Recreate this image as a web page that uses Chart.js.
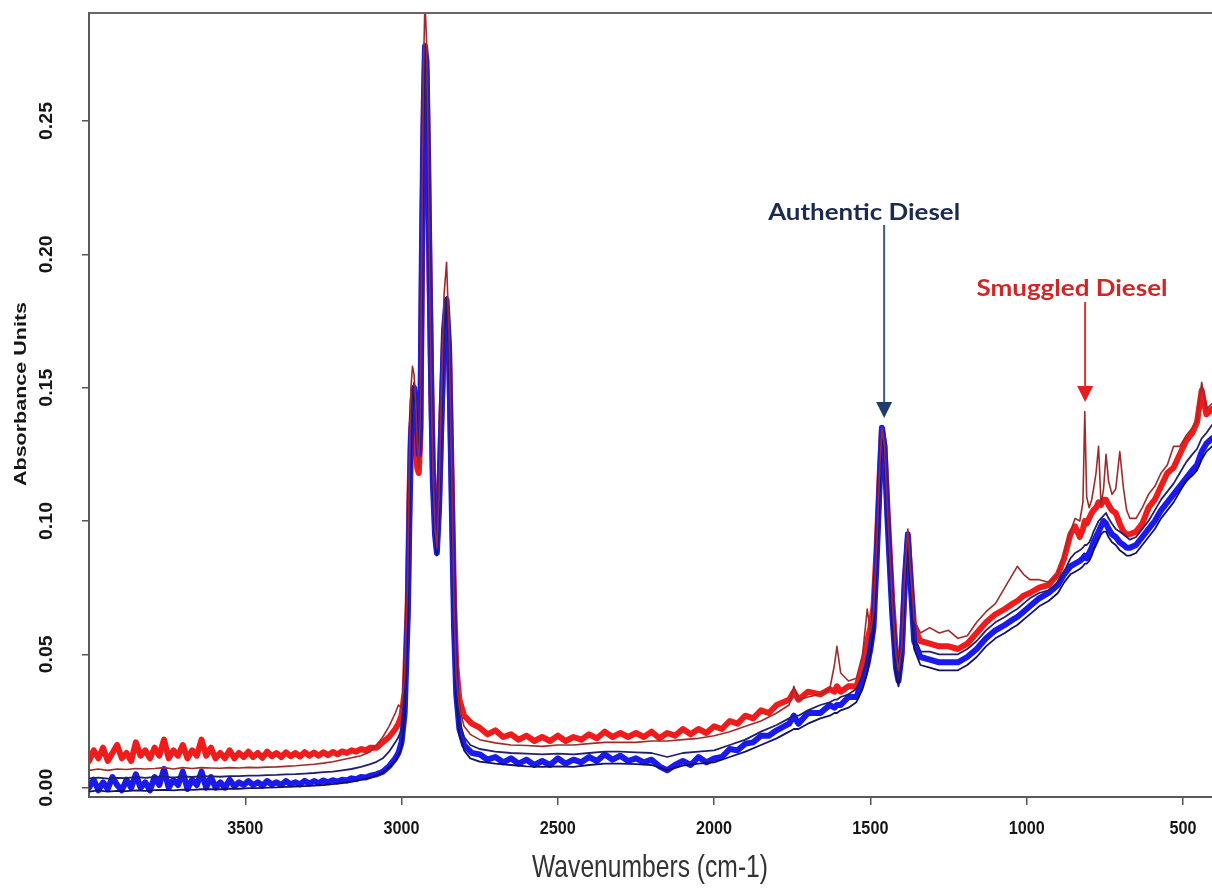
<!DOCTYPE html>
<html>
<head>
<meta charset="utf-8">
<title>FTIR spectra – authentic vs smuggled diesel</title>
<script src="https://cdn.jsdelivr.net/npm/chart.js@4.4.1/dist/chart.umd.min.js"></script>
<style>
  html, body { margin: 0; padding: 0; background: #ffffff; }
  #wrap { width: 1212px; height: 892px; }
</style>
</head>
<body>
<div id="wrap"><canvas id="spectra" width="1212" height="892"></canvas></div>
<script>
// Wavenumber grid (cm-1) for the thin traces
const wavenumbers = [
  4000,3970,3940,3910,3880,3850,3820,3790,3760,3730,3700,3670,3640,3610,3580,3550,3520,3490,3460,3430,3400,3370,3340,3310,3280,3250,3220,3190,3160,3130,3100,
  3080,3060,3040,3020,3010,3000,2990,2980,2975,2970,2965,2960,2955,2950,2945,2940,2935,2930,2925,2920,2915,2910,2905,2900,2893,2887,2880,2872,2864,2856,2848,2840,2832,2825,2815,
  2800,2780,2750,2700,2650,2600,2550,2500,2450,2400,2350,2300,2250,2200,2150,2100,2050,2000,1950,1900,1850,1800,
  1760,1745,1730,1700,1660,1630,1615,1607,1595,1570,1545,1525,1510,1500,1490,1480,1470,1463,1455,1445,1430,1418,1410,1400,1390,1380,1372,1360,1340,
  1310,1280,1250,1220,1190,1160,1130,1100,1070,1045,1030,1010,990,960,930,900,880,860,845,830,820,814,808,800,792,786,778,770,762,754,746,738,727,715,702,690,680,670,650,630,610,590,570,550,530,510,490,470,455,440,425,407
];

// Finer wavenumber grid (cm-1) for the two noisy thick traces
const noisyWavenumbers = [
  4000,3985,3970,3955,3940,3925,3910,3895,3880,3865,
  3850,3835,3820,3805,3790,3775,3760,3745,3730,3715,
  3700,3685,3670,3655,3640,3625,3610,3595,3580,3565,
  3550,3535,3520,3505,3490,3475,3460,3445,3430,3415,
  3400,3385,3370,3355,3340,3325,3310,3295,3280,3265,
  3250,3235,3220,3205,3190,3175,3160,3145,3130,3115,
  3100,
  3080,3060,3040,3020,3010,3000,2990,2980,2975,2970,2965,2960,2955,2950,2945,2940,2935,2930,2925,2920,2915,2910,2905,2900,2893,2887,2880,2872,2864,2856,2848,2840,2832,2825,2815,
  2800,2775,2750,2725,2700,2675,2650,2625,2600,2575,
  2550,2525,2500,2475,2450,2425,2400,2375,2350,2325,
  2300,2275,2250,2225,2200,2175,2150,2125,2100,2075,
  2050,2025,2000,1975,1950,1925,1900,1875,1850,1825,
  1800,
  1760,1745,1730,1700,1660,1630,1615,1607,1595,1570,1545,1525,1510,1500,1490,1480,1470,1463,1455,1445,1430,1418,1410,1400,1390,1380,1372,1360,1340,
  1310,1280,1250,1220,1190,1160,1130,1100,1070,1045,1030,1010,990,960,930,900,880,860,845,830,820,814,808,800,792,786,778,770,762,754,746,738,727,715,702,690,680,670,650,630,610,590,570,550,530,510,490,470,455,440,425,407
];

// Smuggled diesel sample (thin dark-red trace with extra bands)
const smuggledSample = [
  0.0065,0.007,0.0065,0.007,0.0068,0.0072,0.007,0.0072,0.0075,0.007,0.0075,0.0072,0.0075,0.0074,0.0073,0.0075,0.0074,0.0076,0.0075,0.0077,0.0078,0.008,0.0082,0.0085,0.0088,0.0092,0.0097,0.0105,0.0112,0.012,0.0135,
  0.016,0.019,0.023,0.028,0.031,0.030,0.042,0.08,0.12,0.15,0.158,0.155,0.145,0.13,0.12,0.14,0.21,0.27,0.295,0.28,0.24,0.19,0.15,0.12,0.097,0.09,0.11,0.15,0.185,0.197,0.17,0.12,0.066,0.042,0.03,
  0.023,0.020,0.018,0.0168,0.016,0.0158,0.0155,0.016,0.016,0.0165,0.017,0.017,0.017,0.0175,0.0175,0.018,0.0185,0.0195,0.021,0.023,0.025,0.028,
  0.031,0.038,0.033,0.034,0.035,0.037,0.046,0.053,0.043,0.040,0.041,0.050,0.067,0.058,0.066,0.09,0.12,0.135,0.128,0.104,0.069,0.05,0.044,0.052,0.08,0.097,0.082,0.063,0.058,
  0.060,0.058,0.059,0.056,0.057,0.062,0.066,0.069,0.075,0.080,0.083,0.080,0.078,0.078,0.077,0.080,0.088,0.096,0.101,0.100,0.107,0.141,0.109,0.105,0.108,0.112,0.118,0.128,0.106,0.112,0.125,0.115,0.110,0.112,0.126,0.112,0.104,0.101,0.101,0.105,0.110,0.113,0.118,0.121,0.128,0.128,0.132,0.135,0.138,0.152,0.142,0.144
];

// Red reference sample (thick noisy trace, on the finer grid)
const redSample = [
  0.010,0.014,0.011,0.015,0.010,0.013,0.016,0.011,0.013,0.010,
  0.017,0.012,0.014,0.011,0.015,0.012,0.018,0.011,0.014,0.012,
  0.016,0.011,0.014,0.012,0.018,0.012,0.015,0.011,0.013,0.011,
  0.014,0.011,0.013,0.0115,0.0135,0.0115,0.013,0.0112,0.0135,0.0118,
  0.013,0.0115,0.0132,0.0118,0.013,0.0117,0.0133,0.012,0.0132,0.012,
  0.0133,0.0122,0.0134,0.0125,0.0136,0.013,0.014,0.0135,0.0145,0.014,
  0.015,
  0.015,0.017,0.019,0.022,0.024,0.027,0.036,0.07,0.108,0.133,0.14,0.143,0.13,0.12,0.118,0.13,0.19,0.24,0.274,0.268,0.23,0.188,0.15,0.12,0.1,0.092,0.108,0.14,0.168,0.179,0.163,0.118,0.07,0.046,0.033,
  0.027,0.024,0.0225,0.020,0.0215,0.019,0.020,0.018,0.0195,0.0175,
  0.019,0.0175,0.0195,0.0175,0.019,0.018,0.020,0.0185,0.021,0.019,
  0.0205,0.019,0.0205,0.019,0.021,0.0185,0.0205,0.0195,0.022,0.020,
  0.022,0.0205,0.023,0.022,0.025,0.024,0.027,0.026,0.029,0.028,
  0.031,
  0.033,0.036,0.033,0.036,0.035,0.037,0.036,0.038,0.036,0.038,0.038,0.045,0.055,0.06,0.068,0.09,0.118,0.134,0.128,0.104,0.07,0.05,0.043,0.051,0.076,0.093,0.08,0.06,0.055,
  0.054,0.053,0.053,0.052,0.054,0.058,0.062,0.065,0.067,0.069,0.070,0.072,0.073,0.075,0.076,0.080,0.086,0.095,0.098,0.094,0.097,0.100,0.099,0.101,0.103,0.104,0.105,0.107,0.106,0.108,0.108,0.106,0.104,0.103,0.099,0.096,0.095,0.095,0.096,0.099,0.105,0.108,0.113,0.118,0.120,0.125,0.130,0.133,0.137,0.149,0.140,0.142
];

// Authentic diesel, upper navy trace
const authenticUpper = [
  0.0035,0.0038,0.0034,0.0037,0.0036,0.004,0.0037,0.004,0.0042,0.0038,0.0042,0.004,0.0043,0.0042,0.0041,0.0043,0.0043,0.0045,0.0045,0.0047,0.0048,0.005,0.0051,0.0053,0.0055,0.0058,0.006,0.0065,0.007,0.0078,0.0088,
  0.0097,0.011,0.0135,0.017,0.019,0.022,0.032,0.07,0.105,0.133,0.146,0.152,0.146,0.136,0.126,0.137,0.2,0.252,0.279,0.273,0.236,0.19,0.15,0.117,0.096,0.089,0.106,0.142,0.174,0.184,0.166,0.112,0.062,0.037,0.025,
  0.019,0.016,0.0145,0.0135,0.013,0.0128,0.0125,0.0128,0.0125,0.013,0.0135,0.0135,0.0132,0.013,0.0115,0.013,0.0135,0.014,0.016,0.018,0.021,0.0235,
  0.026,0.027,0.027,0.029,0.031,0.032,0.033,0.033,0.034,0.035,0.037,0.042,0.048,0.054,0.062,0.087,0.117,0.134,0.127,0.10,0.066,0.046,0.041,0.05,0.078,0.095,0.078,0.056,0.051,
  0.051,0.050,0.050,0.050,0.052,0.055,0.059,0.062,0.064,0.066,0.067,0.069,0.071,0.073,0.074,0.077,0.081,0.086,0.088,0.089,0.090,0.091,0.091,0.092,0.094,0.096,0.098,0.100,0.101,0.102,0.103,0.101,0.099,0.097,0.096,0.095,0.094,0.093,0.094,0.097,0.100,0.104,0.108,0.111,0.114,0.118,0.122,0.125,0.127,0.131,0.133,0.136
];

// Authentic diesel, blue trace (thick noisy, on the finer grid)
const authenticBlue = [
  0.000,0.003,-0.001,0.002,-0.0005,0.004,0.001,-0.001,0.003,0.000,
  0.005,0.000,0.002,-0.001,0.004,0.001,0.007,0.000,0.003,0.001,
  0.006,-0.0005,0.003,0.001,0.006,0.000,0.004,0.000,0.002,0.000,
  0.003,0.0005,0.002,0.001,0.0025,0.001,0.002,0.0008,0.0025,0.0012,
  0.002,0.001,0.0025,0.0013,0.002,0.0012,0.0026,0.0015,0.0025,0.0017,
  0.0027,0.002,0.0028,0.0023,0.003,0.0027,0.0035,0.0032,0.004,0.0038,
  0.0045,
  0.005,0.006,0.008,0.011,0.013,0.017,0.028,0.065,0.10,0.13,0.145,0.15,0.145,0.135,0.125,0.135,0.20,0.25,0.278,0.272,0.235,0.19,0.15,0.115,0.095,0.088,0.105,0.14,0.172,0.183,0.165,0.11,0.06,0.035,0.022,
  0.016,0.013,0.0125,0.0105,0.0115,0.0095,0.011,0.009,0.0105,0.0085,
  0.010,0.0085,0.011,0.009,0.0105,0.0095,0.0115,0.010,0.0125,0.0105,
  0.012,0.010,0.011,0.0095,0.0105,0.008,0.0065,0.0085,0.010,0.0085,
  0.0115,0.0095,0.011,0.0115,0.0145,0.014,0.0165,0.017,0.0195,0.0195,
  0.0215,
  0.024,0.027,0.024,0.028,0.028,0.031,0.030,0.031,0.031,0.034,0.034,0.040,0.046,0.052,0.060,0.085,0.115,0.135,0.128,0.10,0.065,0.045,0.040,0.05,0.078,0.095,0.078,0.055,0.049,
  0.048,0.047,0.047,0.047,0.049,0.052,0.056,0.059,0.061,0.063,0.064,0.066,0.068,0.071,0.073,0.076,0.080,0.083,0.084,0.085,0.086,0.087,0.086,0.088,0.090,0.092,0.094,0.096,0.098,0.100,0.099,0.097,0.095,0.094,0.092,0.091,0.090,0.090,0.091,0.094,0.097,0.100,0.104,0.107,0.110,0.113,0.116,0.119,0.121,0.126,0.129,0.131
];

// Authentic diesel, lower navy trace
const authenticLower = [
  -0.0015,-0.001,-0.0015,-0.0012,-0.0013,-0.001,-0.0012,-0.0009,-0.0008,-0.001,-0.0007,-0.0008,-0.0006,-0.0006,-0.0006,-0.0004,-0.0004,-0.0002,-0.0002,0.0,0.0001,0.0003,0.0004,0.0006,0.0008,0.001,0.0013,0.0017,0.0022,0.0029,0.0037,
  0.0045,0.0056,0.0075,0.010,0.012,0.015,0.026,0.063,0.098,0.128,0.143,0.149,0.144,0.134,0.124,0.134,0.198,0.249,0.277,0.271,0.234,0.189,0.149,0.114,0.094,0.087,0.104,0.139,0.171,0.182,0.164,0.109,0.058,0.033,0.02,
  0.014,0.011,0.0098,0.009,0.0085,0.008,0.0078,0.008,0.0078,0.0085,0.009,0.009,0.0088,0.0085,0.0065,0.0083,0.009,0.0095,0.0115,0.0135,0.016,0.0185,
  0.021,0.022,0.022,0.024,0.026,0.027,0.028,0.028,0.029,0.030,0.032,0.037,0.043,0.050,0.058,0.083,0.113,0.133,0.126,0.098,0.062,0.042,0.038,0.047,0.075,0.093,0.076,0.052,0.046,
  0.045,0.044,0.044,0.044,0.046,0.049,0.053,0.056,0.058,0.060,0.061,0.063,0.065,0.068,0.070,0.073,0.077,0.080,0.081,0.082,0.083,0.084,0.084,0.085,0.087,0.089,0.091,0.093,0.095,0.096,0.096,0.094,0.092,0.091,0.089,0.088,0.087,0.087,0.088,0.091,0.094,0.097,0.101,0.104,0.107,0.111,0.115,0.117,0.119,0.123,0.126,0.128
];

// Axis ticks and titles
const xTickValues = [3500, 3000, 2500, 2000, 1500, 1000, 500];
const yTickValues = [0.00, 0.05, 0.10, 0.15, 0.20, 0.25];
const xAxisTitle = 'Wavenumbers (cm-1)';
const yAxisTitle = 'Absorbance Units';

// Callout labels, anchored in data units (wavenumber, absorbance)
const callouts = [
  { text: 'Authentic Diesel', textWn: 1520, textAbs: 0.2155, textWidth: 192,
    arrowWn: 1456, arrowFrom: 0.211, arrowTo: 0.1386,
    textColor: '#1b2a4e', lineColor: '#3f5b7a', headColor: '#1f3c6e' },
  { text: 'Smuggled Diesel', textWn: 855, textAbs: 0.187, textWidth: 191,
    arrowWn: 813, arrowFrom: 0.1821, arrowTo: 0.1446,
    textColor: '#cf2626', lineColor: '#d83434', headColor: '#e41e1e' }
];

const toPoints = (grid, values) => grid.map((w, i) => ({ x: w, y: values[i] }));

function fittedText(ctx, text, cx, cy, width, font, color, angle) {
  ctx.save();
  ctx.font = font;
  ctx.fillStyle = color;
  ctx.textAlign = 'center';
  ctx.textBaseline = 'middle';
  const natural = ctx.measureText(text).width;
  ctx.translate(cx, cy);
  if (angle) ctx.rotate(angle);
  ctx.scale(width ? width / natural : 1, 1);
  ctx.fillText(text, 0, 0);
  ctx.restore();
}

const decorations = {
  id: 'decorations',
  beforeDraw(chart) {
    const ctx = chart.ctx;
    ctx.save();
    ctx.fillStyle = '#ffffff';
    ctx.fillRect(0, 0, chart.width, chart.height);
    ctx.restore();
  },
  afterDraw(chart) {
    const { ctx, chartArea: area, scales } = chart;
    const xs = scales.x, ys = scales.y;

    // top frame line
    ctx.save();
    ctx.strokeStyle = '#666666';
    ctx.lineWidth = 2;
    ctx.beginPath();
    ctx.moveTo(area.left, area.top);
    ctx.lineTo(area.right, area.top);
    ctx.stroke();
    ctx.restore();

    // y tick labels, rotated
    yTickValues.forEach(v => {
      fittedText(ctx, v.toFixed(2), 47, ys.getPixelForValue(v), 38,
        'bold 19px "Liberation Sans", Arial, sans-serif', '#161616', -Math.PI / 2);
    });

    // x tick labels
    xTickValues.forEach(v => {
      ctx.save();
      ctx.font = 'bold 18px "Liberation Sans", Arial, sans-serif';
      ctx.fillStyle = '#161616';
      ctx.textAlign = 'center';
      ctx.textBaseline = 'middle';
      ctx.translate(xs.getPixelForValue(v), 829);
      ctx.scale(0.9, 1);
      ctx.fillText(String(v), 0, 0);
      ctx.restore();
    });

    // axis titles
    fittedText(ctx, yAxisTitle, 21, 394, 184,
      'bold 17px "Liberation Sans", Arial, sans-serif', '#161616', -Math.PI / 2);
    fittedText(ctx, xAxisTitle, 650, 868, 236,
      '32px "Liberation Sans", Arial, sans-serif', '#333333', 0);

    // callouts with arrows
    callouts.forEach(c => {
      const tx = xs.getPixelForValue(c.textWn);
      const ty = ys.getPixelForValue(c.textAbs);
      fittedText(ctx, c.text, tx, ty, c.textWidth,
        'bold 23px Lato, "Open Sans", sans-serif', c.textColor, 0);
      const ax = xs.getPixelForValue(c.arrowWn);
      const y0 = ys.getPixelForValue(c.arrowFrom);
      const y1 = ys.getPixelForValue(c.arrowTo);
      ctx.save();
      ctx.strokeStyle = c.lineColor;
      ctx.lineWidth = 2;
      ctx.beginPath();
      ctx.moveTo(ax, y0);
      ctx.lineTo(ax, y1 - 14);
      ctx.stroke();
      ctx.fillStyle = c.headColor;
      ctx.beginPath();
      ctx.moveTo(ax - 8, y1 - 16);
      ctx.lineTo(ax + 8, y1 - 16);
      ctx.lineTo(ax, y1);
      ctx.closePath();
      ctx.fill();
      ctx.restore();
    });
  }
};

const lineStyle = (color, width, order) => ({
  borderColor: color,
  borderWidth: width,
  pointRadius: 0,
  tension: 0,
  fill: false,
  borderJoinStyle: 'round',
  borderCapStyle: 'round',
  order: order
});

new Chart(document.getElementById('spectra'), {
  type: 'line',
  data: {
    datasets: [
      { label: 'Smuggled', data: toPoints(wavenumbers, smuggledSample), ...lineStyle('#9e2b2b', 1.6, 0) },
      { label: 'Authentic A', data: toPoints(wavenumbers, authenticUpper), ...lineStyle('#20206e', 1.8, 1) },
      { label: 'Authentic C', data: toPoints(wavenumbers, authenticLower), ...lineStyle('#121260', 1.8, 2) },
      { label: 'Authentic B', data: toPoints(noisyWavenumbers, authenticBlue), ...lineStyle('#1a1aee', 6, 3) },
      { label: 'Sample', data: toPoints(noisyWavenumbers, redSample), ...lineStyle('#f01c1c', 6, 4) }
    ]
  },
  options: {
    responsive: false,
    devicePixelRatio: 1,
    animation: false,
    layout: { padding: { top: 13, left: 0, right: 0, bottom: 0 } },
    plugins: { legend: { display: false }, tooltip: { enabled: false } },
    scales: {
      x: {
        type: 'linear',
        reverse: true,
        min: 407,
        max: 4000,
        afterBuildTicks: (s) => { s.ticks = xTickValues.map(v => ({ value: v })); },
        afterFit: (s) => { s.height = 95; },
        ticks: { display: false },
        grid: { drawOnChartArea: false, drawTicks: true, tickLength: 8, color: '#555555', lineWidth: 1.5 },
        border: { display: true, color: '#5a5a5a', width: 2 }
      },
      y: {
        type: 'linear',
        min: -0.0035,
        max: 0.2905,
        afterBuildTicks: (s) => { s.ticks = yTickValues.map(v => ({ value: v })); },
        afterFit: (s) => { s.width = 89; },
        ticks: { display: false },
        grid: { drawOnChartArea: false, drawTicks: true, tickLength: 7, color: '#555555', lineWidth: 1.5 },
        border: { display: true, color: '#5a5a5a', width: 2 }
      }
    }
  },
  plugins: [decorations]
});
</script>
</body>
</html>
